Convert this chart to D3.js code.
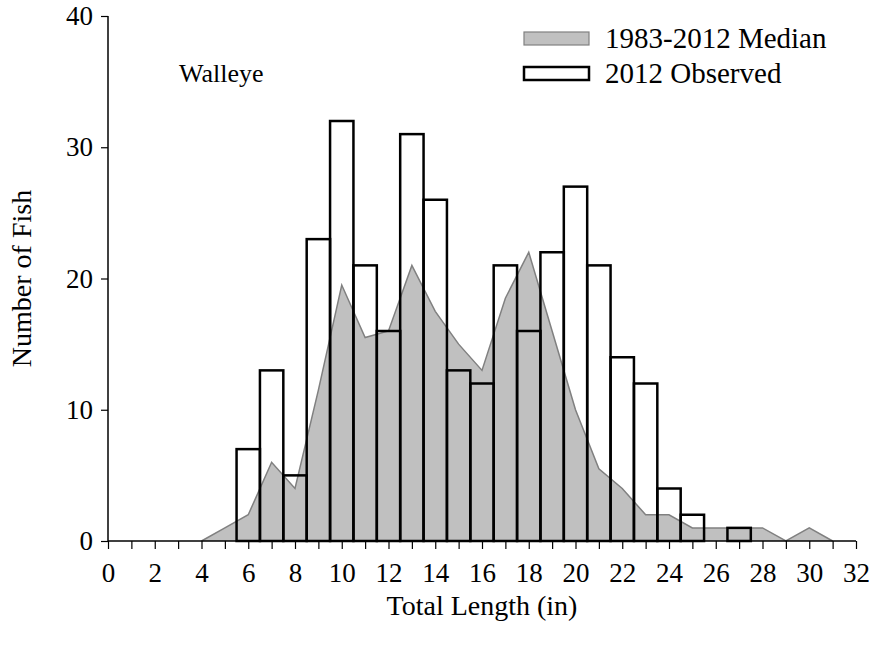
<!DOCTYPE html>
<html>
<head>
<meta charset="utf-8">
<script src="https://cdn.jsdelivr.net/npm/d3@7"></script>
<style>
  html, body { margin: 0; padding: 0; background: #fff; }
  svg text { font-family: "Liberation Serif", "Times New Roman", "DejaVu Serif", serif !important; fill: #000; }
</style>
</head>
<body>
<svg id="chart" width="875" height="650"></svg>
<script>
// Observed 2012 counts by total length (in)
const observedLengths = [6, 7, 8, 9, 10, 11, 12, 13, 14, 15, 16, 17, 18, 19, 20, 21, 22, 23, 24, 25, 26, 27];
const observedCounts  = [7, 13, 5, 23, 32, 21, 16, 31, 26, 13, 12, 21, 16, 22, 27, 21, 14, 12, 4, 2, 0, 1];

// 1983-2012 median counts by total length (in)
const medianLengths = [4, 5, 6, 7, 8, 9, 10, 11, 12, 13, 14, 15, 16, 17, 18, 19, 20, 21, 22, 23, 24, 25, 26, 27, 28, 29, 30, 31];
const medianCounts  = [0, 1, 2, 6, 4, 11.5, 19.5, 15.5, 16, 21, 17.5, 15, 13, 18.5, 22, 16, 10, 5.5, 4, 2, 2, 1, 1, 1, 1, 0, 1, 0];

const xTickLabels = [0, 2, 4, 6, 8, 10, 12, 14, 16, 18, 20, 22, 24, 26, 28, 30, 32];
const yTickLabels = [0, 10, 20, 30, 40];

const legendLabels = ["1983-2012 Median", "2012 Observed"];
const speciesLabel = "Walleye";

const FONT = "'Liberation Serif', 'Times New Roman', 'DejaVu Serif', serif";
const FS_TICK = 27;
const FS_TITLE = 28;
const FS_LEG = 29;
const FS_SPEC = 26;
const svg = d3.select("#chart");

const x = d3.scaleLinear().domain([0, 32]).range([108, 856]);
const y = d3.scaleLinear().domain([0, 40]).range([541, 16]);

// median area
const medData = medianLengths.map((d, i) => ({ x: d, y: medianCounts[i] }));
const area = d3.area().x(d => x(d.x)).y0(y(0)).y1(d => y(d.y));
const line = d3.line().x(d => x(d.x)).y(d => y(d.y));
svg.append("path").datum(medData).attr("d", area).attr("fill", "#c0c0c0");
svg.append("path").datum(medData).attr("d", line).attr("fill", "none")
  .attr("stroke", "#808080").attr("stroke-width", 1.5);

// observed bars
const obsData = observedLengths.map((d, i) => ({ x: d, y: observedCounts[i] })).filter(d => d.y > 0);
svg.append("g").selectAll("rect").data(obsData).join("rect")
  .attr("x", d => x(d.x - 0.5))
  .attr("width", d => x(d.x + 0.5) - x(d.x - 0.5))
  .attr("y", d => y(d.y))
  .attr("height", d => y(0) - y(d.y))
  .attr("fill", "none")
  .attr("stroke", "#000")
  .attr("stroke-width", 2.5);

// x axis
const xAxis = d3.axisBottom(x)
  .tickValues(d3.range(0, 33, 1))
  .tickSize(8)
  .tickFormat(d => xTickLabels.includes(d) ? d : "");
const gx = svg.append("g").attr("transform", `translate(0,${y(0)})`).call(xAxis)
  .attr("font-family", FONT).attr("font-size", FS_TICK);
gx.select(".domain").attr("stroke", "#000").attr("stroke-width", 1.5).attr("d", `M${x(0)},0H${x(32)}`);
gx.selectAll(".tick line").attr("stroke", "#000").attr("stroke-width", 1.2);
gx.selectAll(".tick text").attr("font-size", FS_TICK).attr("font-family", FONT).attr("dy", "1.12em");

// y axis
const yAxis = d3.axisLeft(y).tickValues(yTickLabels).tickSize(7).tickPadding(8);
const gy = svg.append("g").attr("transform", `translate(${x(0)},0)`).call(yAxis)
  .attr("font-family", FONT).attr("font-size", FS_TICK);
gy.select(".domain").attr("stroke", "#000").attr("stroke-width", 1.5).attr("d", `M0,${y(0)}V${y(40)}`);
gy.selectAll(".tick line").attr("stroke", "#000").attr("stroke-width", 1.2);
gy.selectAll(".tick text").attr("font-size", FS_TICK).attr("font-family", FONT);

// axis titles
svg.append("text").attr("x", x(16)).attr("y", 615).attr("text-anchor", "middle")
  .attr("font-family", FONT).attr("font-size", FS_TITLE).text("Total Length (in)");
svg.append("text").attr("transform", `translate(31,${y(20)}) rotate(-90)`)
  .attr("text-anchor", "middle").attr("font-family", FONT).attr("font-size", FS_TITLE).text("Number of Fish");

// species label
svg.append("text").attr("x", 179).attr("y", 82).attr("font-family", FONT).attr("font-size", FS_SPEC).text(speciesLabel);

// legend
const lg = svg.append("g");
lg.append("rect").attr("x", 524).attr("y", 32).attr("width", 65).attr("height", 13)
  .attr("fill", "#c0c0c0").attr("stroke", "#808080").attr("stroke-width", 1.2);
lg.append("rect").attr("x", 524).attr("y", 67).attr("width", 65).attr("height", 13)
  .attr("fill", "#fff").attr("stroke", "#000").attr("stroke-width", 2.5);
lg.append("text").attr("x", 605).attr("y", 48).attr("font-family", FONT).attr("font-size", FS_LEG).text(legendLabels[0]);
lg.append("text").attr("x", 605).attr("y", 83).attr("font-family", FONT).attr("font-size", FS_LEG).text(legendLabels[1]);
</script>
</body>
</html>
